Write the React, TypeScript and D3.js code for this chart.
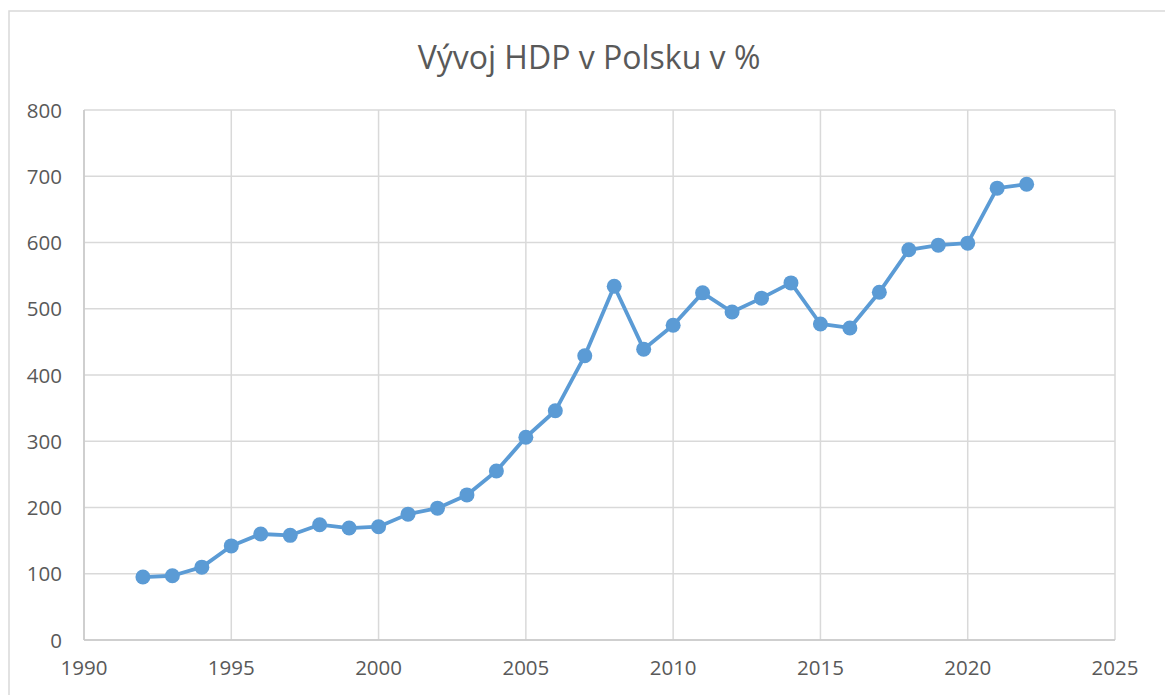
import React from "react";
import * as d3 from "d3";

const years = [1992,1993,1994,1995,1996,1997,1998,1999,2000,2001,2002,2003,2004,2005,2006,2007,2008,2009,2010,2011,2012,2013,2014,2015,2016,2017,2018,2019,2020,2021,2022];
const values = [95,97,110,142,160,158,174,169,171,190,199,219,255,306,346,429,534,439,475,524,495,516,539,477,471,525,589,596,599,682,688];
const xTicks = [1990,1995,2000,2005,2010,2015,2020,2025];
const yTicks = [0,100,200,300,400,500,600,700,800];
const title = "Vývoj HDP v Polsku v %";

const W = 1165, H = 695;
const M = { left: 84, right: 1115, top: 110, bottom: 640 };
const FONT = "'Open Sans', 'Liberation Sans', sans-serif";
const TEXT = "#595959";
const GRID = "#d9d9d9";
const BLUE = "#5b9bd5";

export default function App() {
  const x = d3.scaleLinear().domain([1990, 2025]).range([M.left, M.right]);
  const y = d3.scaleLinear().domain([0, 800]).range([M.bottom, M.top]);
  const pts = years.map((yr, i) => [yr, values[i]] as [number, number]);
  const line = d3.line<[number, number]>().x(d => x(d[0])).y(d => y(d[1]));
  return (
    <svg width={W} height={H} style={{ position: "absolute", left: 0, top: 0, background: "#fff" }}>
      <rect x={9} y={11} width={W + 10} height={H + 10} fill="#fff" stroke={GRID} strokeWidth={1.5} />
      <text x={589} y={69} textAnchor="middle" fontFamily={FONT} fontSize={32} fill={TEXT}>{title}</text>
      {yTicks.map(t => (
        <g key={"y" + t}>
          <line x1={M.left} x2={M.right} y1={y(t)} y2={y(t)} stroke={GRID} strokeWidth={1.5} />
          <text x={62} y={y(t) + 7.5} textAnchor="end" fontFamily={FONT} fontSize={20.5} fill={TEXT}>{t}</text>
        </g>
      ))}
      {xTicks.map(t => (
        <g key={"x" + t}>
          <line x1={x(t)} x2={x(t)} y1={M.top} y2={M.bottom} stroke={GRID} strokeWidth={1.5} />
          <text x={x(t)} y={675} textAnchor="middle" fontFamily={FONT} fontSize={20.5} fill={TEXT}>{t}</text>
        </g>
      ))}
      <line x1={M.left} x2={M.right} y1={M.bottom} y2={M.bottom} stroke="#c8c8c8" strokeWidth={1.5} />
      <line x1={M.left} x2={M.left} y1={M.top} y2={M.bottom} stroke="#c8c8c8" strokeWidth={1.5} />
      <path d={line(pts) || ""} fill="none" stroke={BLUE} strokeWidth={3.8} strokeLinejoin="round" />
      {pts.map((p, i) => (
        <circle key={i} cx={x(p[0])} cy={y(p[1])} r={7.5} fill={BLUE} />
      ))}
    </svg>
  );
}
